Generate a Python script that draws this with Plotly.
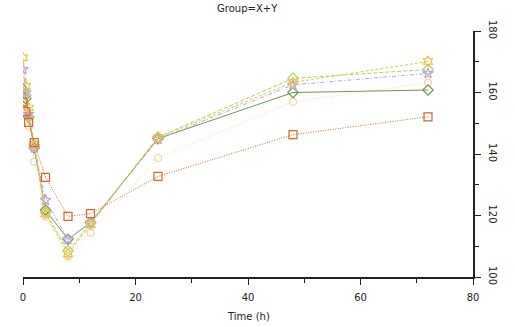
import plotly.graph_objects as go

time_h = [0, 0.5, 1, 2, 4, 8, 12, 24, 48, 72]

orange_sq = [156.9, 153.8, 150.3, 143.7, 132.4, 119.7, 120.6, 132.7, 146.3, 152.1]
yellow_star = [171.3, 162.0, 155.0, 143.0, 120.5, 107.5, 117.0, 145.3, 163.3, 170.1]
purple_star = [167.5, 160.0, 153.0, 142.0, 125.0, 112.3, 117.5, 144.8, 162.5, 166.2]
dgreen_dia = [161.0, 158.0, 152.0, 142.0, 121.8, 112.3, 117.7, 145.0, 160.0, 160.8]
lgreen_dia = [160.0, 159.0, 152.0, 143.0, 121.0, 108.5, 117.5, 145.5, 164.6, 167.5]
beige_sun = [163.8, 154.0, 149.0, 137.5, 119.6, 106.6, 114.4, 138.7, 157.0, 163.2]

x_ticks = [0, 20, 40, 60, 80]
y_ticks = [100, 120, 140, 160, 180]

series = [
    (beige_sun, "#F2D6A6", "1px,2px", "circle-open", 7),
    (dgreen_dia, "#6E9A4C", "solid", "diamond-open", 8),
    (lgreen_dia, "#A6D65C", "4px,2px", "diamond-open", 8),
    (purple_star, "#BBA0E3", "4px,2px,1px,2px", "star-open", 8),
    (yellow_star, "#F0C24A", "3px,2px", "hexagram-open", 8),
    (orange_sq, "#D8652C", "1px,1.5px", "square-open", 8),
]

fig = go.Figure()
for vals, col, dash, sym, sz in series:
    fig.add_trace(go.Scatter(
        x=time_h, y=vals, mode="lines+markers",
        line=dict(color=col, width=1, dash=dash),
        marker=dict(symbol=sym, size=sz, color=col, line=dict(width=1.2, color=col)),
        showlegend=False,
    ))

font = dict(family="DejaVu Sans", size=10, color="#222")
fig.update_layout(
    width=515, height=327,
    margin=dict(l=23, r=42, t=31, b=50),
    paper_bgcolor="white", plot_bgcolor="white",
    title=dict(text="Group=X+Y", x=0.48, xanchor="center", y=0.985, yanchor="top",
               font=dict(family="DejaVu Sans", size=10, color="#222")),
    font=font,
    xaxis=dict(range=[0, 80], tickvals=x_ticks, showgrid=False, zeroline=False,
               showline=True, linecolor="#222", linewidth=2, automargin=False,
               ticks="outside", ticklen=6, tickcolor="#222", ticklabelstandoff=4,
               minor=dict(tickvals=[10, 30, 50, 70], ticks="outside", ticklen=4, tickcolor="#222")),
    yaxis=dict(range=[100, 180], tickvals=y_ticks, side="right", showgrid=False, zeroline=False,
               showline=True, linecolor="#222", linewidth=2, automargin=False,
               ticks="outside", ticklen=6, tickcolor="#222", tickangle=90, ticklabelstandoff=4,
               minor=dict(tickvals=[110, 130, 150, 170], ticks="outside", ticklen=4, tickcolor="#222")),
    annotations=[dict(text="Time (h)", xref="paper", yref="paper", x=0.5, y=-39 / 246,
                      xanchor="center", yanchor="middle", showarrow=False, font=font)],
)
fig.write_html("out.html")
